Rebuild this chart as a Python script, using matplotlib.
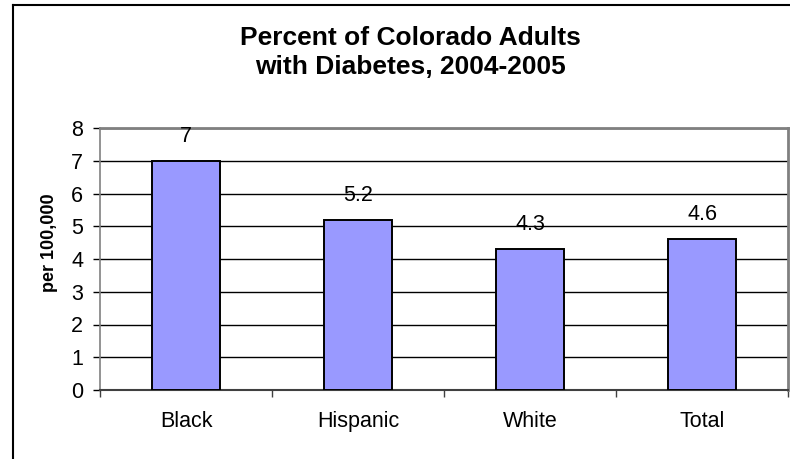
import matplotlib
matplotlib.use("Agg")
import matplotlib.pyplot as plt
from matplotlib.lines import Line2D
import numpy as np

plt.rcParams['font.family'] = ['Liberation Sans', 'DejaVu Sans']

categories = ["Black", "Hispanic", "White", "Total"]
values = [7, 5.2, 4.3, 4.6]
value_labels = ["7", "5.2", "4.3", "4.6"]
yticks = [0, 1, 2, 3, 4, 5, 6, 7, 8]
title_lines = ["Percent of Colorado Adults", "with Diabetes, 2004-2005"]

W, H = 790, 459
fig = plt.figure(figsize=(W / 100, H / 100), dpi=100)
fig.patch.set_facecolor("white")

# plot area in pixel terms
left, right, top, bottom = 100, 788, 128, 390
ax = fig.add_axes([left / W, 1 - bottom / H, (right - left) / W, (bottom - top) / H])

x = np.arange(len(categories))
ax.bar(x, values, width=0.4, color="#9999FF", edgecolor="black", linewidth=1.4, zorder=3)

for xi, v, lab in zip(x, values, value_labels):
    ax.annotate(lab, (xi, v), xytext=(0, 10), textcoords="offset points",
                ha="center", va="bottom", fontsize=15.5)

ax.set_xlim(-0.5, len(categories) - 0.5)
ax.set_ylim(0, 8)
ax.set_yticks(yticks)
ax.tick_params(axis="y", direction="out", length=5, width=1, pad=7, labelsize=15.5)

# category boundaries as ticks, labels on minor ticks
ax.set_xticks(np.arange(-0.5, len(categories), 1.0))
ax.set_xticklabels([])
ax.set_xticks(x, minor=True)
ax.set_xticklabels(categories, minor=True)
ax.tick_params(axis="x", which="major", direction="out", length=5, width=1, color="#404040")
ax.tick_params(axis="x", which="minor", length=0, pad=15, labelsize=15.5)

ax.yaxis.grid(True, color="black", linewidth=1, zorder=0)
ax.set_axisbelow(True)

for s in ["top", "right"]:
    ax.spines[s].set_color("#808080")
    ax.spines[s].set_linewidth(2)
ax.spines["left"].set_color("#808080")
ax.spines["left"].set_linewidth(1.2)
ax.spines["bottom"].set_color("#404040")
ax.spines["bottom"].set_linewidth(1.5)

fig.text(49 / W, 1 - 243 / H, "per 100,000", rotation=90, ha="center", va="center",
         fontsize=13, fontweight="bold")

# title, two lines with Excel-like spacing
for line, base_y in zip(title_lines, [45, 74]):
    fig.text(410 / W, 1 - base_y / H, line, ha="center", va="baseline",
             fontsize=19, fontweight="bold")

# outer chart border (cropped on right and bottom)
fig.add_artist(Line2D([12.5 / W, 12.5 / W], [0, 1 - 5 / H], transform=fig.transFigure,
                      color="black", linewidth=1.5))
fig.add_artist(Line2D([12.5 / W, 1], [1 - 5 / H, 1 - 5 / H], transform=fig.transFigure,
                      color="black", linewidth=1.5))

fig.savefig("out.png", dpi=100, facecolor="white")
